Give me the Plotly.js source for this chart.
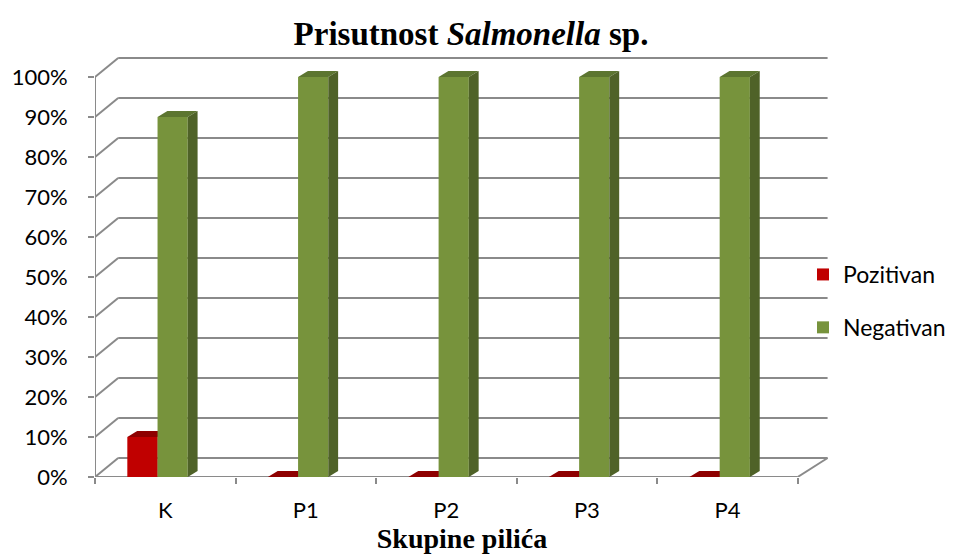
<!DOCTYPE html>
<html>
<head>
<meta charset="utf-8">
<script src="https://cdn.plot.ly/plotly-3.0.1.min.js"></script>
<style>html,body{margin:0;padding:0;background:#fff;}#chart{width:953px;height:557px;}</style>
</head>
<body>
<div id="chart"></div>
<script>
// ---- data ----
const categories = ['K', 'P1', 'P2', 'P3', 'P4'];
const pozitivan = [0.10, 0, 0, 0, 0];
const negativan = [0.90, 1.00, 1.00, 1.00, 1.00];
const yTicks = [0, 0.1, 0.2, 0.3, 0.4, 0.5, 0.6, 0.7, 0.8, 0.9, 1.0];
const seriesNames = ['Pozitivan', 'Negativan'];

// ---- styling constants (pseudo-3D geometry in data units) ----
const W = 0.215, offR = -0.27, offG = -0.055;
const dxb = 0.07, dyb = 0.015;      // bar depth
const dxw = 0.165, dyw = 0.0475;    // wall depth
const xRight = 4.713;
const gridColor = '#8a8a8a';
const xIdx = categories.map((c, i) => i);

const traces = [
  {type: 'bar', name: seriesNames[0], x: xIdx, y: pozitivan, offset: offR, width: W,
   marker: {color: '#C00000', line: {width: 0}}, legendgroup: 'a', hoverinfo: 'y'},
  {type: 'bar', name: seriesNames[1], x: xIdx, y: negativan, offset: offG, width: W,
   marker: {color: '#77933C', line: {width: 0}}, legendgroup: 'b', hoverinfo: 'y'}
];

const shapes = [];
function line(x0, y0, x1, y1, layer) {
  shapes.push({type: 'line', xref: 'x', yref: 'y', x0: x0, y0: y0, x1: x1, y1: y1,
    line: {color: gridColor, width: 2}, layer: layer || 'below'});
}
// back wall gridlines + slanted connectors
yTicks.forEach(v => {
  line(-0.5, v, -0.5 + dxw, v + dyw);
  line(-0.5 + dxw, v + dyw, xRight, v + dyw);
});
// floor front, right slant, front axis
line(-0.5, 0, 4.5, 0);
line(4.5, 0, xRight, dyw);
line(-0.5, 0, -0.5, yTicks[yTicks.length - 1]);

function faces(vals, off, topColor, sideColor, layer) {
  vals.forEach((v, i) => {
    const x0 = i + off, x1 = x0 + W;
    shapes.push({type: 'path', xref: 'x', yref: 'y', layer: layer, line: {width: 0},
      fillcolor: topColor,
      path: `M ${x0},${v} L ${x1},${v} L ${x1 + dxb},${v + dyb} L ${x0 + dxb},${v + dyb} Z`});
    if (v > 0) {
      shapes.push({type: 'path', xref: 'x', yref: 'y', layer: layer, line: {width: 0},
        fillcolor: sideColor,
        path: `M ${x1},0 L ${x1 + dxb},${dyb} L ${x1 + dxb},${v + dyb} L ${x1},${v} Z`});
    }
  });
}
faces(pozitivan, offR, '#8E0000', '#7A0000', 'below');
faces(negativan, offG, '#5C7530', '#4F6228', 'above');

const serif = '"Liberation Serif", "Times New Roman", serif';
const layout = {
  width: 953, height: 557,
  margin: {l: 95, r: 124, t: 53, b: 80, autoexpand: false},
  paper_bgcolor: '#fff', plot_bgcolor: 'rgba(0,0,0,0)',
  showlegend: true,
  barmode: 'overlay',
  font: {family: 'Lato, "Open Sans", sans-serif', size: 22, color: '#000'},
  title: {
    text: 'Prisutnost <i>Salmonella</i> sp.',
    font: {family: serif, size: 33, color: '#000', weight: 'bold'},
    x: 471 / 953, xref: 'container', xanchor: 'center',
    y: 1 - 33 / 557, yref: 'container', yanchor: 'middle'
  },
  xaxis: {
    range: [-0.5, xRight + 0.01],
    tickmode: 'array', tickvals: xIdx, ticktext: categories,
    ticks: '', showgrid: false, zeroline: false, showline: false,
    ticklabelstandoff: 18,
    minor: {tick0: -0.5, dtick: 1, ticks: 'outside', ticklen: 6, tickcolor: gridColor, tickwidth: 2, showgrid: false},
    tickfont: {size: 22},
    title: {text: 'Skupine pilića', standoff: 6,
      font: {family: serif, size: 28, color: '#000', weight: 'bold'}},
    fixedrange: true, automargin: false
  },
  yaxis: {
    range: [0, 1.06],
    tickmode: 'array', tickvals: yTicks, tickformat: '.0%',
    ticks: 'outside', ticklen: 6, tickcolor: gridColor, tickwidth: 2,
    ticklabelstandoff: 16,
    showgrid: false, zeroline: false, showline: false,
    tickfont: {size: 22},
    fixedrange: true, automargin: false
  },
  legend: {
    x: 803 / 953, xref: 'container', xanchor: 'left',
    y: 1 - 253 / 557, yref: 'container', yanchor: 'top',
    traceorder: 'grouped', tracegroupgap: 20,
    font: {size: 23}, bgcolor: 'rgba(0,0,0,0)'
  },
  shapes: shapes
};

Plotly.newPlot('chart', traces, layout, {displayModeBar: false, staticPlot: true});
</script>
</body>
</html>
